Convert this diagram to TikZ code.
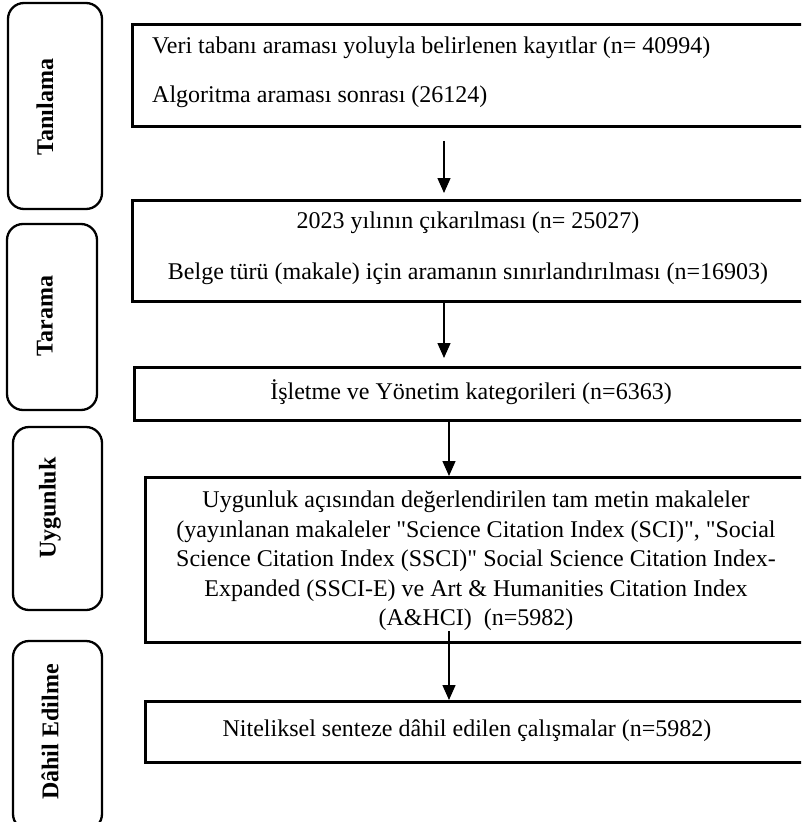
\documentclass[tikz,border=0pt]{standalone}
\usepackage{fontspec}
\setmainfont{Liberation Serif}
\usetikzlibrary{arrows.meta}
\begin{document}
\begin{tikzpicture}[x=1pt,y=-1pt,
  stage/.style={draw, line width=2.3pt, rounded corners=16pt},
  stagelabel/.style={rotate=90, font=\fontsize{24}{28}\selectfont\bfseries, inner sep=0pt},
  flowbox/.style={draw, line width=2.8pt, anchor=north west, minimum width=690pt, inner sep=0pt},
  flowtext/.style={font=\fontsize{24}{29.5}\selectfont, inner sep=0pt},
  arr/.style={line width=1.4pt, -{Triangle[length=15pt,width=13pt]}}]
\useasboundingbox (0,0) rectangle (801,822);
\clip (0,0) rectangle (801,822);

% stage boxes on the left
\draw[stage] (8,3) rectangle (102,209);
\draw[stage] (7,224) rectangle (97,410);
\draw[stage] (13,427) rectangle (102,610);
\draw[stage] (13,641) rectangle (102,830);
\node[stagelabel] (lab1) at (45,107) {Tanılama};
\node[stagelabel] (lab2) at (45,316) {Tarama};
\node[stagelabel] (lab3) at (50,508) {Uygunluk};
\node[stagelabel] (lab4) at (50,732) {Dâhil Edilme};

% flow boxes
\node[flowbox, minimum height=102pt] (box1) at (131,23) {};
\node[flowbox, minimum height=101pt] (box2) at (131,199) {};
\node[flowbox, minimum height=53pt] (box3) at (133,366) {};
\node[flowbox, minimum height=165pt] (box4) at (144,476) {};
\node[flowbox, minimum height=61pt] (box5) at (144,700) {};

% box texts
\node[flowtext, anchor=west, align=left] (t1) at (152,72.5)
  {Veri tabanı araması yoluyla belirlenen kayıtlar (n= 40994)\\[19pt]
   Algoritma araması sonrası (26124)};
\node[flowtext, align=center] (t2) at (468,248.5)
  {2023 yılının çıkarılması (n= 25027)\\[21pt]
   Belge türü (makale) için aramanın sınırlandırılması (n=16903)};
\node[flowtext] (t3) at (471,392) {İşletme ve Yönetim kategorileri (n=6363)};
\node[flowtext, align=center] (t4) at (476,561)
  {Uygunluk açısından değerlendirilen tam metin makaleler\\
   (yayınlanan makaleler \textquotedbl Science Citation Index (SCI)\textquotedbl, \textquotedbl Social\\
   Science Citation Index (SSCI)\textquotedbl\ Social Science Citation Index-\\
   Expanded (SSCI-E) ve Art \& Humanities Citation Index\\
   (A\&HCI)\ \ (n=5982)};
\node[flowtext] (t5) at (467,731) {Niteliksel senteze dâhil edilen çalışmalar (n=5982)};

% arrows
\coordinate (s1) at (444,0);
\coordinate (s2) at (449,0);
\draw[arr, shorten <=13pt, shorten >=6pt] (box1.south -| s1) -- (box2.north -| s1);
\draw[arr, shorten >=8pt] (box2.south -| s1) -- (box3.north -| s1);
\draw[arr] (box3.south -| s2) -- (box4.north -| s2);
\draw[arr] (t4.south -| s2) -- (box5.north -| s2);
\end{tikzpicture}
\end{document}
